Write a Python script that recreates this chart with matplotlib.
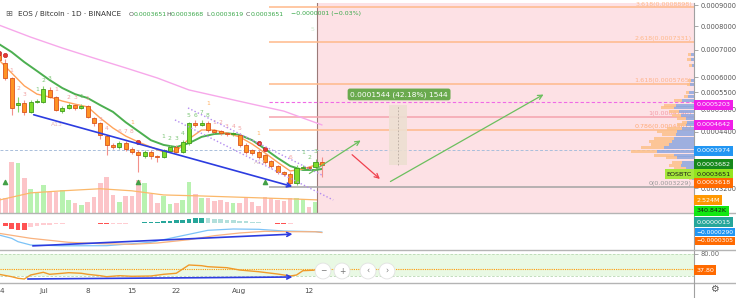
import numpy as np
import matplotlib
matplotlib.use("Agg")
import matplotlib.pyplot as plt
from matplotlib.lines import Line2D

W, H = 736, 298
DPI = 100

# --- EOS/BTC daily candles, day 0 = 24 Jun 2019 ---
opens = [0.000680, 0.000650, 0.000597, 0.000512, 0.000518, 0.000493, 0.000522, 0.000521,
         0.000558, 0.000536, 0.000495, 0.000504, 0.000512, 0.000504, 0.000509, 0.000476,
         0.000463, 0.000430, 0.000409, 0.000404, 0.000413, 0.000400, 0.000393, 0.000384,
         0.000393, 0.000384, 0.000382, 0.000395, 0.000404, 0.000393, 0.000413, 0.000463,
         0.000458, 0.000463, 0.000445, 0.000442, 0.000437, 0.000434, 0.000433, 0.000409,
         0.000397, 0.000393, 0.000386, 0.000373, 0.000363, 0.000351, 0.000347, 0.000330,
         0.000359, 0.000362, 0.000361, 0.000371]
highs = [0.000690, 0.000665, 0.000600, 0.000536, 0.000527, 0.000527, 0.000530, 0.000570,
         0.000567, 0.000540, 0.000509, 0.000518, 0.000516, 0.000514, 0.000512, 0.000479,
         0.000466, 0.000433, 0.000413, 0.000418, 0.000418, 0.000404, 0.000397, 0.000397,
         0.000397, 0.000386, 0.000400, 0.000409, 0.000409, 0.000420, 0.000466, 0.000471,
         0.000471, 0.000468, 0.000448, 0.000445, 0.000440, 0.000440, 0.000437, 0.000413,
         0.000400, 0.000397, 0.000389, 0.000376, 0.000366, 0.000353, 0.000351, 0.000365,
         0.000366, 0.000364, 0.000378, 0.000382]
lows = [0.000655, 0.000590, 0.000484, 0.000493, 0.000484, 0.000490, 0.000518, 0.000518,
        0.000533, 0.000495, 0.000490, 0.000500, 0.000498, 0.000500, 0.000476, 0.000455,
        0.000423, 0.000386, 0.000400, 0.000400, 0.000395, 0.000389, 0.000351, 0.000380,
        0.000378, 0.000371, 0.000380, 0.000393, 0.000391, 0.000391, 0.000409, 0.000452,
        0.000455, 0.000440, 0.000437, 0.000433, 0.000430, 0.000430, 0.000404, 0.000389,
        0.000386, 0.000378, 0.000367, 0.000359, 0.000347, 0.000343, 0.000326, 0.000327,
        0.000356, 0.000357, 0.000358, 0.000341]
closes = [0.000661, 0.000597, 0.000504, 0.000518, 0.000493, 0.000521, 0.000525, 0.000561,
          0.000536, 0.000498, 0.000504, 0.000512, 0.000504, 0.000509, 0.000479, 0.000463,
          0.000433, 0.000409, 0.000404, 0.000413, 0.000400, 0.000393, 0.000386, 0.000393,
          0.000384, 0.000382, 0.000397, 0.000404, 0.000393, 0.000416, 0.000463, 0.000458,
          0.000463, 0.000445, 0.000440, 0.000437, 0.000435, 0.000437, 0.000409, 0.000393,
          0.000391, 0.000382, 0.000371, 0.000363, 0.000351, 0.000347, 0.000330, 0.000359,
          0.000362, 0.000360, 0.000371, 0.000365]
volumes_m = [3.0, 2.9, 9.9, 9.7, 6.8, 4.7, 4.1, 5.4, 4.1, 4.1, 4.5, 2.5, 1.9, 1.6, 2.1, 3.1,
             5.8, 7.0, 3.5, 2.1, 3.3, 3.3, 6.4, 5.8, 3.7, 1.9, 3.3, 1.7, 1.9, 2.5, 6.0, 3.7,
             2.9, 2.9, 2.3, 2.5, 2.1, 1.9, 1.9, 2.9, 2.1, 1.4, 3.1, 2.9, 2.5, 2.3, 2.9, 2.9,
             2.7, 1.2, 2.1, 0.34]
days = np.arange(len(opens))

vol_ma_days = [0, 5, 10, 16, 21, 26, 32, 37, 42, 47, 51, 51.8]
vol_ma = [2.5, 3.9, 4.3, 4.7, 4.3, 3.5, 3.3, 3.1, 2.9, 2.7, 2.5, 2.5]

ma_days = [0, 2, 4, 6, 8, 10, 12, 14, 16, 18, 20, 22, 24, 26, 28, 30, 32, 34, 36, 38,
           40, 42, 44, 46, 48, 50, 51]
ema_slow = [0.000723, 0.000691, 0.000653, 0.000621, 0.000590, 0.000564, 0.000545, 0.000533,
            0.000512, 0.000493, 0.000465, 0.000442, 0.000420, 0.000409, 0.000404, 0.000413,
            0.000428, 0.000435, 0.000437, 0.000433, 0.000420, 0.000400, 0.000380, 0.000363,
            0.000355, 0.000355, 0.000357]
ema_fast = [0.000661, 0.000614, 0.000571, 0.000545, 0.000536, 0.000524, 0.000515, 0.000507,
            0.000476, 0.000450, 0.000430, 0.000416, 0.000404, 0.000393, 0.000395, 0.000423,
            0.000445, 0.000445, 0.000437, 0.000428, 0.000411, 0.000391, 0.000371, 0.000353,
            0.000357, 0.000365, 0.000367]
sma_days = [0, 5, 10, 15, 20, 25, 30, 35, 40, 45, 51]
sma_long = [0.000805, 0.000752, 0.000707, 0.000668, 0.000632, 0.000597, 0.000558, 0.000536,
            0.000515, 0.000495, 0.000458]

fib_ratios = ["3.618", "2.618", "1.618", "1", "0.786", "0"]
fib_prices = [0.0008898, 0.0007331, 0.0005765, 0.0004796, 0.0004461, 0.0003229]

# volume profile rows: price, up part, down part (px units)
vp_prices = [0.000680, 0.000661, 0.000642, 0.000590, 0.000574, 0.000551, 0.000539, 0.000527,
             0.000512, 0.000504, 0.000493, 0.000484, 0.000476, 0.000465, 0.000458, 0.000450,
             0.000440, 0.000433, 0.000425, 0.000416, 0.000409, 0.000402, 0.000393, 0.000386,
             0.000380, 0.000371, 0.000365, 0.000359, 0.000351, 0.000345, 0.000339]
vp_blue = [3, 3, 2, 3, 4, 5, 6, 11.7, 18.3, 20, 15, 13.3, 8.3, 6.7, 8.3, 11.7, 16.7, 18.3,
           20, 21.7, 25, 30, 36.7, 20, 16.7, 11.7, 13.3, 8.3, 5, 3.3, 1.7]
vp_orange = [3, 4, 3, 3, 3, 3, 4, 8.3, 11.7, 13.3, 10, 8.3, 8.3, 5, 8.3, 15, 20, 13.3,
             20, 23.3, 18.3, 23.3, 26.7, 20, 11.7, 10, 11.7, 11.7, 6.7, 3.3, 3.3]

# MACD in units of 1e-7 BTC
macd_days = [0, 2, 3, 5, 10, 17, 24, 27, 30, 33, 37, 41, 45, 50, 51]
macd_line = [-384, -490, -598, -704, -730, -726, -618, -490, -362, -234, -192, -202, -256,
             -278, -290]
signal_days = [0, 5, 11, 16, 21, 25, 30, 34, 38, 42, 46, 50, 51]
signal_line = [-330, -490, -618, -662, -682, -640, -534, -406, -320, -266, -278, -280, -305]
hist_days = np.arange(1, 52)
macd_hist = [-96, -192, -208, -210, -128, -96, -64, -48, -32, -16, -10, 10, 16, 13, 6, -16,
             -38, -38, -26, -16, -6, 10, 26, 38, 48, 64, 80, 96, 112, 144, 160, 176, 160,
             144, 128, 112, 96, 80, 64, 48, 32, 16, -10, -19, -26, -16, -6, 10, 16, 16, 15]

rsi_days = [0, 2, 3, 4, 5, 7, 8, 10, 11, 13, 14, 16, 17, 19, 21, 24, 26, 28, 30, 32, 33,
            36, 38, 41, 44, 46, 47, 48, 50, 51]
rsi_vals = [24.6, 18.1, 13.7, 11.8, 22.7, 30.1, 24.6, 27.4, 29.0, 27.4, 24.6, 20.8, 18.1,
            20.8, 19.2, 20.0, 24.6, 27.4, 50.0, 48.1, 45.3, 42.6, 36.3, 31.7, 25.4, 20.0,
            22.7, 34.4, 36.0, 37.8]

tick_days = [7, 14, 21, 28, 38, 49]
tick_names = ["Jul", "8", "15", "22", "Aug", "12"]
price_ticks = [0.0009, 0.0008, 0.0007, 0.0006, 0.00055, 0.0005, 0.00044, 0.00032]

# TD-sequential style counts: day, price, text
td_green = [(6, 0.000558, "1"), (7, 0.000587, "2"), (8, 0.000594, "3"), (13, 0.000539, "1"),
            (26, 0.000428, "1"), (27, 0.000423, "2"), (28, 0.000423, "3"), (29, 0.000437, "4"),
            (30, 0.000484, "5"), (31, 0.000484, "6"), (32, 0.000490, "7"), (33, 0.000484, "8"),
            (48, 0.000391, "1"), (49, 0.000380, "2"), (50, 0.000393, "3")]
td_red = [(2, 0.000621, "1"), (3, 0.000561, "2"), (4, 0.000545, "3"), (9, 0.000558, "1"),
          (11, 0.000536, "2"), (12, 0.000536, "3"), (14, 0.000533, "1"), (16, 0.000471, "3"),
          (17, 0.000450, "4"), (19, 0.000440, "6"), (20, 0.000440, "7"), (21, 0.000440, "8"),
          (34, 0.000463, "1"), (35, 0.000463, "2"), (36, 0.000455, "3"), (37, 0.000455, "4"),
          (38, 0.000450, "5"), (46, 0.000380, "6")]
td_orange = [(21, 0.000465, "1"), (33, 0.000518, "1"), (41, 0.000437, "1")]
red_dot_days = [0, 1, 22, 41, 42]
red_dot_prices = [0.000686, 0.000680, 0.000416, 0.000413, 0.000400]
tri_days = [1, 22, 42]

XMIN, XMAX = 0.158, 109.79
PMIN, PMAX = 0.00027842, 0.0009118
UP_BODY, UP_EDGE = "#7fdc2a", "#3f9a1f"
DN_BODY, DN_EDGE = "#ff9324", "#d9541e"


def fx(x):
    return x / W


def fy(y):
    return 1 - y / H


fig = plt.figure(figsize=(W / DPI, H / DPI), dpi=DPI)
fig.patch.set_facecolor("white")

ax = fig.add_axes([0, 85 / H, 694 / W, 210 / H])
axm = fig.add_axes([0, 48 / H, 694 / W, 37 / H], sharex=ax)
axr = fig.add_axes([0, 15 / H, 694 / W, 33 / H], sharex=ax)

ax.set_yscale("log")
ax.set_xlim(XMIN, XMAX)
ax.set_ylim(PMIN, PMAX)

# volume (behind candles)
axv = ax.twinx()
axv.set_ylim(0, 40.7)
vol_cols = ["#b8f2b0" if c >= o else "#fcc4c8" for o, c in zip(opens, closes)]
axv.bar(days, volumes_m, width=0.72, color=vol_cols, linewidth=0)
axv.plot(vol_ma_days, vol_ma, color="#fbb86a", lw=0.9)
axv.axis("off")
axv.set_zorder(1)
ax.set_zorder(2)
ax.patch.set_visible(False)

# pink projection zone + vertical marker
ax.axvspan(50.2, XMAX, color="#fde1e5", zorder=0, lw=0)
ax.axvline(50.2, color="#9b7a78", lw=0.8, zorder=1)

# fib levels
fib_cols = ["#ffb98a", "#ffb98a", "#ffb98a", "#f5a3ad", "#ffb98a", "#a3a3a3"]
fib_txt = ["#ffb98a", "#ffb98a", "#ffb38a", "#f49aa6", "#ffaa77", "#9a9a9a"]
for r, p, c, tc in zip(fib_ratios, fib_prices, fib_cols, fib_txt):
    ax.hlines(p, 42.65, XMAX, color=c, lw=1.1, zorder=1)
    ax.text(109.45, p * 1.004, f"{r}({p:.7f})", ha="right", va="bottom",
            fontsize=4.6, color=tc, zorder=2)
ax.hlines(0.0005203, 42.65, XMAX, color="#f06ae6", lw=0.8, ls=(0, (3, 2)), zorder=1)
ax.hlines(0.0003974, XMIN, XMAX, color="#a9bedb", lw=0.7, ls=(0, (3, 2)), zorder=1)

# moving averages
ax.plot(sma_days, sma_long, color="#f7a8ea", lw=1.0, zorder=3)
ax.plot(ma_days, ema_slow, color="#4caf50", lw=1.4, zorder=3)
ax.plot(ma_days, ema_fast, color="#ffa35c", lw=1.0, zorder=3)

# candles
for d, o, h, l, c in zip(days, opens, highs, lows, closes):
    up = c >= o
    ax.vlines(d, l, h, color="#86d46a" if up else "#f3908a", lw=0.8, zorder=4)
    lo_b, hi_b = min(o, c), max(o, c)
    ax.bar(d, hi_b - lo_b, bottom=lo_b, width=0.64, color=UP_BODY if up else DN_BODY,
           edgecolor=UP_EDGE if up else DN_EDGE, linewidth=0.6, zorder=5)

# markers and counts
ax.scatter(red_dot_days, red_dot_prices, s=10, color="#e53935", edgecolor="#b71c1c",
           linewidths=0.4, zorder=6)
ax.scatter(tri_days, [0.000332] * len(tri_days), marker="^", s=9, color="#43a047", zorder=6)
for d, p, t in td_green:
    ax.text(d, p, t, fontsize=4.3, color="#7cc576", ha="center", va="center", zorder=6)
for d, p, t in td_red:
    ax.text(d, p, t, fontsize=4.3, color="#f1a1a1", ha="center", va="center", zorder=6)
for d, p, t in td_orange:
    ax.text(d, p, t, fontsize=4.3, color="#ffb060", ha="center", va="center", zorder=6)
ax.text(9.2, 0.000458, "A13", fontsize=4.3, color="#e8b9b9", ha="center", va="center", zorder=6)
ax.text(41.2, 0.000371, "A13", fontsize=4.3, color="#d9c4c4", ha="center", va="center", zorder=6)
ax.text(49.6, 0.000787, "5", fontsize=4.5, color="#cfe8cf", ha="center", va="center", zorder=6)

# drawings: trend line, channel, arrows, measure
ax.annotate("", xy=(46.76, 0.000322), xytext=(5.06, 0.000487),
            arrowprops=dict(arrowstyle="->", color="#2c3ce0", lw=1.2, mutation_scale=7),
            zorder=7)
ax.plot([29.86, 51.0], [0.000504, 0.000345], color="#b48cf0", lw=1.0, ls=(0, (1, 1.6)), zorder=7)
ax.plot([27.8, 52.8], [0.000471, 0.0002996], color="#b48cf0", lw=1.0, ls=(0, (1, 1.6)), zorder=7)
ax.annotate("", xy=(57.5, 0.000423), xytext=(48.66, 0.000345),
            arrowprops=dict(arrowstyle="->", color="#6cbf5e", lw=0.9, mutation_scale=8),
            zorder=7)
ax.annotate("", xy=(86.4, 0.000548), xytext=(61.45, 0.000330),
            arrowprops=dict(arrowstyle="->", color="#6cbf5e", lw=0.9, mutation_scale=8),
            zorder=7)
ax.annotate("", xy=(60.5, 0.000334), xytext=(55.45, 0.000391),
            arrowprops=dict(arrowstyle="->", color="#f0414e", lw=0.9, mutation_scale=8),
            zorder=7)
ax.fill_between([61.6, 64.5], 0.000365, 0.000512, color="#eddfd2", alpha=0.9, lw=0, zorder=2)
ax.vlines(63.05, 0.000365, 0.000512, color="#b8aaa0", lw=0.6, ls=(0, (2, 2)), zorder=3)
ax.text(63.2, 0.000544, "0.0001544 (42.18%) 1544", fontsize=5.4, color="white",
        ha="center", va="center", zorder=8,
        bbox=dict(boxstyle="round,pad=0.35,rounding_size=0.3", fc="#6aaa4e", ec="none"))

# volume profile
axp = ax.twiny()
axp.set_xlim(694, 0)
lo_edges = [p / 1.0085 for p in vp_prices]
hi_edges = [p * 1.0085 for p in vp_prices]
heights = [h_ - l_ for h_, l_ in zip(hi_edges, lo_edges)]
axp.barh(lo_edges, vp_blue, height=heights, left=0, align="edge", color="#8ea7de",
         alpha=0.85, lw=0)
axp.barh(lo_edges, vp_orange, height=heights, left=vp_blue, align="edge", color="#fcc08a",
         alpha=0.85, lw=0)
axp.axis("off")
axp.set_zorder(3)
axp.patch.set_visible(False)

# main pane axis on right
ax.yaxis.tick_right()
ax.set_yticks(price_ticks)
ax.set_yticklabels([f"{p:.7f}" for p in price_ticks])
ax.yaxis.set_minor_locator(matplotlib.ticker.NullLocator())
ax.tick_params(axis="y", which="major", length=3, width=0.6, color="#9a9a9a",
               labelsize=4.8, labelcolor="#555555", pad=1.5)
ax.tick_params(axis="x", bottom=False, labelbottom=False, top=False, labeltop=False)
for s in ("left", "top", "bottom"):
    ax.spines[s].set_visible(False)
ax.spines["right"].set_color("#a0a0a0")
ax.spines["right"].set_linewidth(0.8)

# MACD pane
axm.set_ylim(-864, 320)
hist_cols = []
prev = None
for v in macd_hist:
    if v >= 0:
        col = "#26a69a" if (prev is None or v >= prev) else "#b2dfdb"
    else:
        col = "#ff5252" if (prev is None or v < prev) else "#ffcdd2"
    hist_cols.append(col)
    prev = v
axm.bar(hist_days, macd_hist, width=0.75, color=hist_cols, lw=0)
axm.plot(macd_days, macd_line, color="#7cc3f7", lw=0.9)
axm.plot(signal_days, signal_line, color="#f9b27e", lw=0.9)
axm.annotate("", xy=(46.8, -352), xytext=(4.9, -736),
             arrowprops=dict(arrowstyle="->", color="#2c3ce0", lw=1.2, mutation_scale=7))
axm.set_yticks([])
axm.tick_params(axis="x", bottom=False, labelbottom=False)
for s in ("left", "top", "bottom"):
    axm.spines[s].set_visible(False)
axm.spines["right"].set_color("#a0a0a0")
axm.spines["right"].set_linewidth(0.8)
axm.patch.set_visible(False)

# RSI pane
axr.set_ylim(0.93, 90.8)
axr.axhspan(20, 80, color="#e9f9e4", lw=0)
axr.axhline(80, color="#b9d8b3", lw=0.6, ls=(0, (3, 2)))
axr.axhline(20, color="#b9d8b3", lw=0.6, ls=(0, (3, 2)))
axr.axhline(37.8, color="#ff9800", lw=0.8, ls=(0, (1, 1)))
axr.plot(rsi_days, rsi_vals, color="#f09a2a", lw=1.0)
axr.annotate("", xy=(46.8, 17.3), xytext=(4.1, 11.8),
             arrowprops=dict(arrowstyle="->", color="#2c3ce0", lw=1.2, mutation_scale=7))
axr.yaxis.tick_right()
axr.set_yticks([80])
axr.set_yticklabels(["80.00"])
axr.tick_params(axis="y", length=3, width=0.6, color="#9a9a9a", labelsize=4.8,
                labelcolor="#666666", pad=1.5)
axr.set_xticks(tick_days)
axr.set_xticklabels(tick_names)
axr.tick_params(axis="x", length=0, labelsize=5.2, labelcolor="#4d4d4d", pad=3.5)
# only the "4" of the Jun 24 label shows at the left edge
axr.text(0.0, -0.15, "4", transform=axr.transAxes, ha="left", va="top",
         fontsize=5.2, color="#4d4d4d", clip_on=False)
for s in ("left", "top", "bottom"):
    axr.spines[s].set_visible(False)
axr.spines["right"].set_color("#a0a0a0")
axr.spines["right"].set_linewidth(0.8)
axr.patch.set_visible(False)
axr.set_xlim(XMIN, XMAX)

# pane separators and axis line
for yy in (213, 250, 283):
    fig.add_artist(Line2D([0, 1], [fy(yy), fy(yy)], color="#b4b4b4", lw=1.0, zorder=10))
fig.add_artist(Line2D([fx(694), fx(694)], [fy(283), 0], color="#a0a0a0", lw=0.8, zorder=10))

# header
fig.text(fx(5), fy(14), "⊞", fontsize=6, color="#666666", va="center", zorder=11)
fig.text(fx(18), fy(14), "EOS / Bitcoin · 1D · BINANCE", fontsize=5.2, color="#333333",
         va="center", zorder=11)
ohlc = [("O", "0.0003651", 129), ("H", "0.0003668", 166), ("L", "0.0003619", 206),
        ("C", "0.0003651", 246)]
for k, v, x0 in ohlc:
    fig.text(fx(x0), fy(14), k, fontsize=4.5, color="#555555", va="center", zorder=11)
    fig.text(fx(x0 + 4.2), fy(14), v, fontsize=4.5, color="#3aa84a", va="center", zorder=11)
fig.text(fx(291), fy(14), "−0.0000001 (−0.03%)", fontsize=4.5, color="#3aa84a",
         va="center", zorder=11)

# right-side value badges
badges = [(105, "0.0005203", "#f01ee8", "white"), (125, "0.0004642", "#f01ee8", "white"),
          (151, "0.0003974", "#2196f3", "white"), (164, "0.0003682", "#16891b", "white"),
          (174, "0.0003651", "#93e41f", "#1a1a1a"), (183, "0.0003618", "#ff6a00", "white"),
          (200, "2.524M", "#ff9800", "white"), (211, "340.842K", "#12e812", "#1a1a1a"),
          (222, "0.0000015", "#26a69a", "white"), (232, "−0.0000290", "#2196f3", "white"),
          (241, "−0.0000305", "#ff6a00", "white"), (270, "37.80", "#ff6a00", "white")]
for yy, t, bg, fg in badges:
    fs = 4.3 if t.startswith("−") else 4.6
    fig.text(fx(696.5), fy(yy), t, fontsize=fs, color=fg, va="center", ha="left", zorder=12,
             bbox=dict(boxstyle="square,pad=0.32", fc=bg, ec="none"))
fig.text(fx(692), fy(174), "EOSBTC", fontsize=4.6, color="#1a1a1a", va="center", ha="right",
         zorder=12, bbox=dict(boxstyle="square,pad=0.32", fc="#a6e83c", ec="none"))

# zoom/scroll buttons and settings gear
for xx, t in ((323, "−"), (342, "+"), (368, "‹"), (387, "›")):
    fig.text(fx(xx), fy(271), t, fontsize=5.5, color="#777777", ha="center", va="center",
             zorder=12, bbox=dict(boxstyle="circle,pad=0.45", fc="white", ec="#e2e2e2", lw=0.6))
fig.text(fx(714), fy(289), "⚙", fontsize=7, color="#555555", ha="center", va="center",
         zorder=12)

fig.savefig("out.png", dpi=DPI, facecolor="white")
